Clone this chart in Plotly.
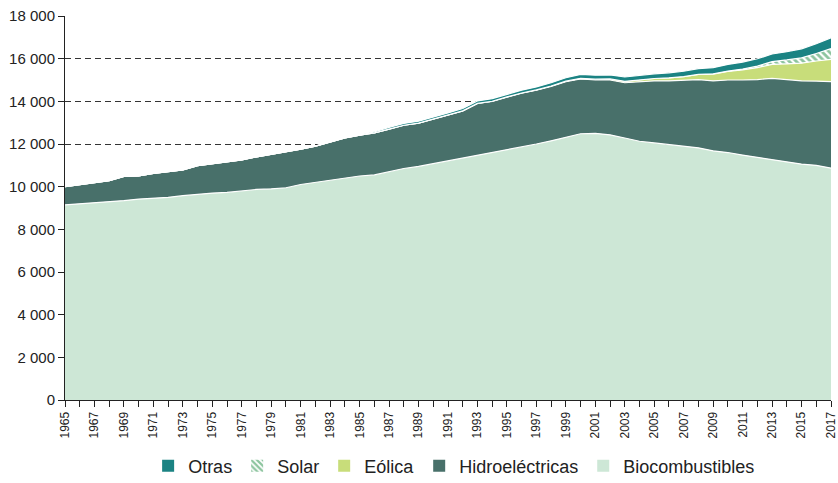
import plotly.graph_objs as go

years = list(range(1965, 2018))

# valores
bio = [9150, 9200, 9230, 9280, 9350, 9420, 9450, 9500, 9580, 9650,
       9700, 9730, 9800, 9870, 9900, 9950, 10100, 10200, 10300, 10420,
       10500, 10550, 10700, 10850, 10950, 11080, 11200, 11330, 11450, 11580,
       11720, 11850, 12000, 12150, 12300, 12480, 12500, 12430, 12280, 12130,
       12050, 11980, 11900, 11820, 11680, 11600, 11480, 11380, 11280, 11150,
       11060, 11000, 10870]
hydro_top = [10000, 10100, 10200, 10280, 10480, 10500, 10620, 10700, 10780, 10980,
             11080, 11150, 11250, 11400, 11520, 11620, 11760, 11900, 12100, 12280,
             12420, 12520, 12700, 12880, 12980, 13180, 13350, 13550, 13900, 14000,
             14200, 14380, 14520, 14700, 14920, 15050, 15000, 15000, 14870, 14920,
             14960, 14960, 14980, 15020, 14960, 15000, 15000, 15020, 15080, 15030,
             14960, 14950, 14920]
hydro = [h - b for h, b in zip(hydro_top, bio)]
wind = [0] * 25 + [1, 2, 3, 4, 5, 8, 10, 15, 20, 25,
                   30, 40, 50, 70, 90, 110, 140, 180, 240, 320,
                   400, 470, 560, 650, 730, 830, 940, 1050]
solar = [0] * 43 + [5, 10, 20, 40, 70, 130, 180, 250, 350, 500]
otras = [0] * 21 + [50, 80, 85, 90, 100, 105, 110, 115, 120, 130,
                    135, 140, 150, 160, 180, 185, 190, 200, 210, 220,
                    235, 250, 270, 290, 310, 330, 345, 360, 390, 420,
                    460, 510]

solar_pattern = dict(shape="\\", fgcolor="#1a8a3e", bgcolor="#ffffff", size=5, solidity=0.55)

series = [
    ("Biocombustibles", bio, "#cde7d6", None),
    ("Hidroeléctricas", hydro, "#48706a", None),
    ("Eólica", wind, "#c8dd7a", None),
    ("Solar", solar, "#ffffff", solar_pattern),
    ("Otras", otras, "#1b8383", None),
]

fig = go.Figure()
for name, vals, color, pattern in series:
    kw = {}
    if pattern:
        kw["fillpattern"] = pattern
    fig.add_trace(go.Scatter(x=years, y=vals, name=name, stackgroup="one",
                             mode="lines", line=dict(color="white", width=1.2),
                             fillcolor=color, showlegend=False, **kw))

# leyenda con cuadrados
for name, vals, color, pattern in series:
    mk = dict(color=color, line=dict(width=0))
    if pattern:
        mk["pattern"] = pattern
    fig.add_trace(go.Bar(x=[None], y=[None], name=name, marker=mk))

fig.update_layout(
    width=838, height=483,
    margin=dict(l=65, r=7, t=16, b=83, autoexpand=False),
    plot_bgcolor="white", paper_bgcolor="white",
    separators=", ",
    font=dict(family="Liberation Sans, Arial", size=15, color="#222"),
    showlegend=True,
    legend=dict(orientation="h", traceorder="reversed", x=0.508, xanchor="center",
                yref="container", y=0.035, yanchor="middle", font=dict(size=18)),
)
fig.update_xaxes(range=[1965, 2017], tickmode="linear", tick0=1965, dtick=2,
                 tickangle=-90, ticks="outside", ticklen=6, tickcolor="#222",
                 tickfont=dict(size=12), ticklabeloverflow="allow",
                 minor=dict(dtick=1, ticks="outside", ticklen=6, tickcolor="#222"),
                 showline=True, linecolor="#222", linewidth=1, showgrid=False,
                 zeroline=False, automargin=False)
fig.update_yaxes(range=[0, 18000], tickmode="linear", dtick=2000, tickformat=",d",
                 ticks="outside", ticklen=6, tickcolor="#222",
                 showline=True, linecolor="#222", linewidth=1,
                 showgrid=True, gridcolor="#333", griddash="6px,4px", gridwidth=1,
                 zeroline=False, automargin=False)

fig.write_html("out.html", config={"displayModeBar": False},
               post_script="document.body.style.margin='0';")
